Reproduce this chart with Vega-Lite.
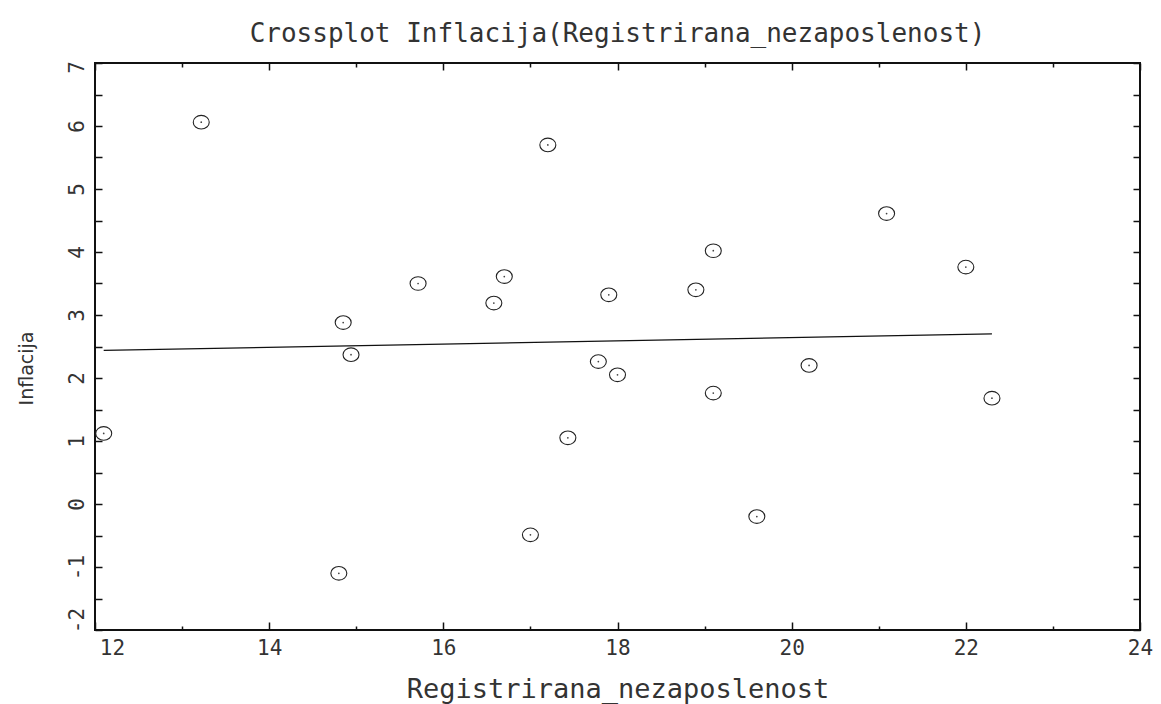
{
  "$schema": "https://vega.github.io/schema/vega-lite/v6.json",
  "width": 1045,
  "height": 567,
  "autosize": "none",
  "padding": {"left": 95, "top": 63, "right": 21, "bottom": 74},
  "background": "white",
  "title": {
    "text": "Crossplot Inflacija(Registrirana_nezaposlenost)",
    "font": "DejaVu Sans Mono",
    "fontSize": 26,
    "fontWeight": "normal",
    "color": "#333333",
    "anchor": "middle",
    "frame": "group",
    "baseline": "alphabetic",
    "offset": 27,
    "dy": 34
  },
  "data": {
    "values": [
      {"Registrirana_nezaposlenost": 12.10, "Inflacija": 1.12},
      {"Registrirana_nezaposlenost": 13.22, "Inflacija": 6.06},
      {"Registrirana_nezaposlenost": 14.80, "Inflacija": -1.10},
      {"Registrirana_nezaposlenost": 14.85, "Inflacija": 2.88},
      {"Registrirana_nezaposlenost": 14.94, "Inflacija": 2.37},
      {"Registrirana_nezaposlenost": 15.71, "Inflacija": 3.50},
      {"Registrirana_nezaposlenost": 16.58, "Inflacija": 3.19},
      {"Registrirana_nezaposlenost": 16.70, "Inflacija": 3.61},
      {"Registrirana_nezaposlenost": 17.00, "Inflacija": -0.49},
      {"Registrirana_nezaposlenost": 17.20, "Inflacija": 5.70},
      {"Registrirana_nezaposlenost": 17.43, "Inflacija": 1.05},
      {"Registrirana_nezaposlenost": 17.78, "Inflacija": 2.26},
      {"Registrirana_nezaposlenost": 17.90, "Inflacija": 3.32},
      {"Registrirana_nezaposlenost": 18.00, "Inflacija": 2.05},
      {"Registrirana_nezaposlenost": 18.90, "Inflacija": 3.40},
      {"Registrirana_nezaposlenost": 19.10, "Inflacija": 4.02},
      {"Registrirana_nezaposlenost": 19.10, "Inflacija": 1.76},
      {"Registrirana_nezaposlenost": 19.60, "Inflacija": -0.20},
      {"Registrirana_nezaposlenost": 20.20, "Inflacija": 2.20},
      {"Registrirana_nezaposlenost": 21.09, "Inflacija": 4.61},
      {"Registrirana_nezaposlenost": 22.00, "Inflacija": 3.76},
      {"Registrirana_nezaposlenost": 22.30, "Inflacija": 1.68}
    ]
  },
  "layer": [
    {
      "mark": {
        "type": "point",
        "shape": "M-1,0A1,0.85 0 1,1 1,0A1,0.85 0 1,1 -1,0Z",
        "filled": false,
        "stroke": "#222222",
        "strokeWidth": 1.1,
        "size": 256,
        "opacity": 1
      },
      "encoding": {
        "x": {
          "field": "Registrirana_nezaposlenost",
          "type": "quantitative",
          "scale": {"domain": [12, 24], "nice": false, "zero": false},
          "axis": {
            "orient": "bottom",
            "title": "Registrirana_nezaposlenost",
            "values": [12, 13, 14, 15, 16, 17, 18, 19, 20, 21, 22, 23, 24],
            "labelExpr": "datum.value % 2 === 0 ? toString(datum.value) : ''",
            "tickSize": {"condition": {"test": "datum.value % 2 === 0", "value": -8}, "value": -4},
            "labelOffset": {"condition": {"test": "datum.value === 12", "value": 17}, "value": 0},
            "labelFontSize": 21,
            "labelBaseline": "top",
            "labelPadding": 15,
            "labelFlush": false,
            "labelOverlap": false,
            "labelBound": false,
            "titleFontSize": 27,
            "titleBaseline": "alphabetic",
            "titleY": 67
          }
        },
        "y": {
          "field": "Inflacija",
          "type": "quantitative",
          "scale": {"domain": [-2, 7], "nice": false, "zero": false},
          "axis": {
            "orient": "left",
            "title": "Inflacija",
            "values": [-2, -1.5, -1, -0.5, 0, 0.5, 1, 1.5, 2, 2.5, 3, 3.5, 4, 4.5, 5, 5.5, 6, 6.5, 7],
            "labelExpr": "datum.value % 1 === 0 ? toString(datum.value) : ''",
            "tickSize": -7,
            "labelAngle": 270,
            "labelAlign": "center",
            "labelBaseline": "alphabetic",
            "labelPadding": 19,
            "labelOffset": {"condition": [{"test": "datum.value === -2", "value": -10}, {"test": "datum.value === 7", "value": 4}], "value": 0},
            "labelFontSize": 21,
            "labelFlush": false,
            "labelOverlap": false,
            "labelBound": false,
            "titleFont": "DejaVu Sans",
            "titleFontSize": 19,
            "titleAngle": 270,
            "titleAlign": "center",
            "titleBaseline": "middle",
            "titleX": -69,
            "titleY": 305
          }
        }
      }
    },
    {
      "transform": [{"regression": "Inflacija", "on": "Registrirana_nezaposlenost"}],
      "mark": {"type": "line", "color": "#111111", "strokeWidth": 1.2},
      "encoding": {
        "x": {
          "field": "Registrirana_nezaposlenost",
          "type": "quantitative",
          "scale": {"domain": [12, 24], "nice": false, "zero": false},
          "axis": {
            "orient": "top",
            "title": null,
            "labels": false,
            "values": [12, 13, 14, 15, 16, 17, 18, 19, 20, 21, 22, 23, 24],
            "tickSize": {"condition": {"test": "datum.value % 2 === 0", "value": -7}, "value": -4}
          }
        },
        "y": {
          "field": "Inflacija",
          "type": "quantitative",
          "scale": {"domain": [-2, 7], "nice": false, "zero": false},
          "axis": {
            "orient": "right",
            "title": null,
            "labels": false,
            "values": [-2, -1.5, -1, -0.5, 0, 0.5, 1, 1.5, 2, 2.5, 3, 3.5, 4, 4.5, 5, 5.5, 6, 6.5, 7],
            "tickSize": -7
          }
        }
      }
    },
    {
      "mark": {"type": "circle", "size": 3, "color": "#444444", "opacity": 1},
      "encoding": {
        "x": {"field": "Registrirana_nezaposlenost", "type": "quantitative", "scale": {"domain": [12, 24], "nice": false, "zero": false}, "axis": null},
        "y": {"field": "Inflacija", "type": "quantitative", "scale": {"domain": [-2, 7], "nice": false, "zero": false}, "axis": null}
      }
    }
  ],
  "resolve": {"axis": {"x": "independent", "y": "independent"}},
  "config": {
    "view": {"stroke": "#111111", "strokeWidth": 2},
    "axis": {
      "grid": false,
      "domain": false,
      "tickColor": "#111111",
      "tickWidth": 1.5,
      "labelColor": "#333333",
      "titleColor": "#333333",
      "labelFont": "DejaVu Sans Mono",
      "titleFont": "DejaVu Sans Mono",
      "labelFontWeight": "normal",
      "titleFontWeight": "normal"
    }
  }
}
